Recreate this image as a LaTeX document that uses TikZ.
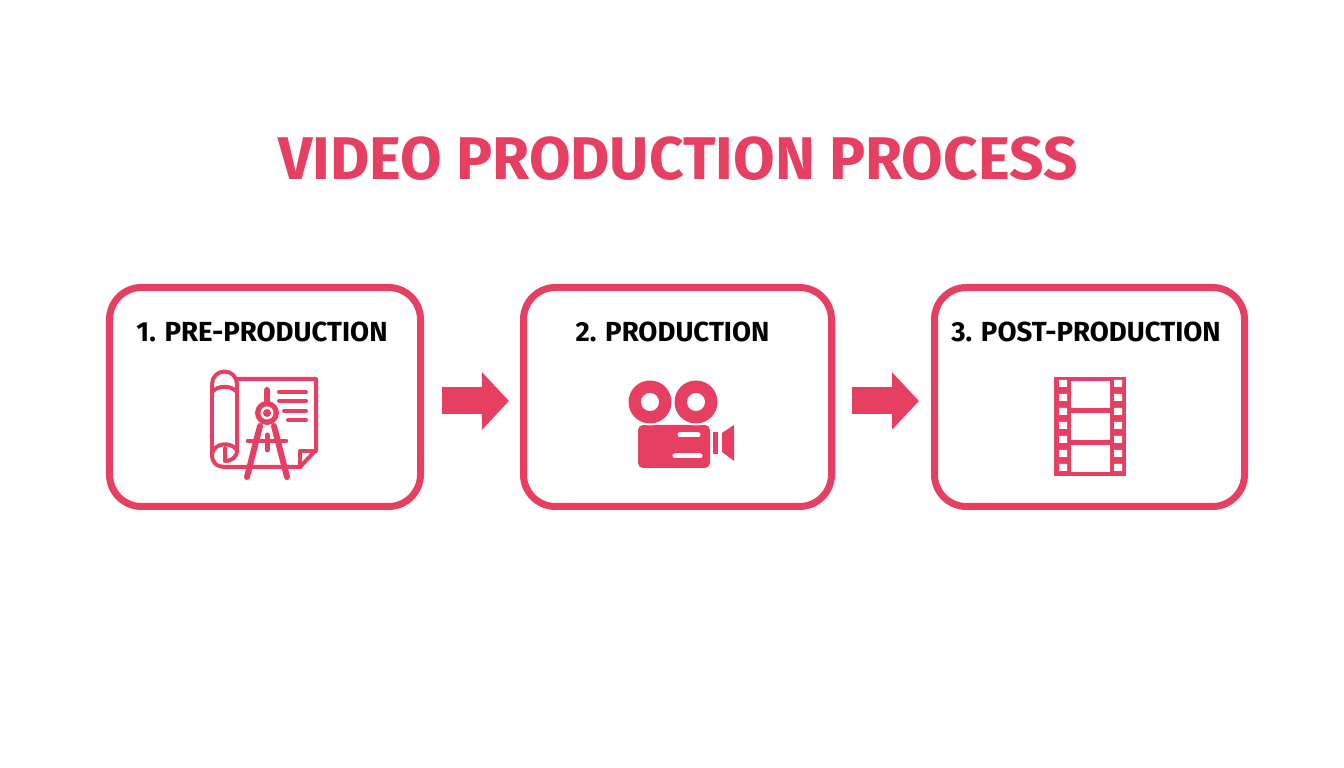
\documentclass[tikz,border=0pt]{standalone}
\usepackage{fontspec}
\setmainfont{Fira Sans}
\usepackage{xcolor}
\usetikzlibrary{arrows.meta}
\definecolor{rose}{HTML}{E63F62}
\tikzstyle{stepbox} = [rectangle, rounded corners=0.32cm, draw=rose, line width=0.07cm, minimum height=2.19cm]
\tikzstyle{steplabel} = [font=\bfseries\fontsize{7.85pt}{9pt}\selectfont, text=black]
\tikzstyle{bigarrow} = [draw=rose, line width=0.27cm, -{Triangle[length=0.27cm, width=0.56cm, fill=rose]}]
\tikzstyle{thin} = [draw=rose, line width=0.04cm, line join=round, line cap=round]
\tikzstyle{leg} = [draw=rose, line width=0.06cm, line cap=round]

\begin{document}
\begin{tikzpicture}
    \useasboundingbox (0,0) rectangle (13.44,7.68);

    \node (title) [font=\bfseries\fontsize{17.15pt}{22pt}\selectfont, text=rose] at (6.78,6.09) {VIDEO PRODUCTION PROCESS};

    \node (pre) [stepbox, minimum width=3.11cm] at (2.65,3.71) {};
    \node (prod) [stepbox, minimum width=3.08cm] at (6.775,3.71) {};
    \node (post) [stepbox, minimum width=3.10cm] at (10.895,3.71) {};

    \node (prelabel) [steplabel] at (2.62,4.36) {1. PRE-PRODUCTION};
    \node (prodlabel) [steplabel] at (6.725,4.36) {2. PRODUCTION};
    \node (postlabel) [steplabel] at (10.86,4.36) {3. POST-PRODUCTION};

    \draw [bigarrow, shorten <=0.18cm, shorten >=0.11cm] ([yshift=-0.04cm]pre.east) -- ([yshift=-0.04cm]prod.west);
    \draw [bigarrow, shorten <=0.17cm, shorten >=0.12cm] ([yshift=-0.04cm]prod.east) -- ([yshift=-0.04cm]post.west);

    % plan and compass
    \draw [thin] (2.12,3.14) -- (2.12,3.84) arc (180:0:0.125) -- (2.37,3.18);
    \draw [thin] (2.37,3.89) -- (3.16,3.89) -- (3.16,3.18) -- (3.00,3.01) -- (2.27,3.01) .. controls (2.16,3.01) and (2.12,3.05) .. (2.12,3.14);
    \draw [thin] (3.00,3.01) -- (3.00,3.17) -- (3.16,3.17);
    \draw [thin] (2.12,3.76) .. controls (2.18,3.83) and (2.31,3.83) .. (2.37,3.76);
    \draw [thin] (2.12,3.14) .. controls (2.14,3.25) and (2.30,3.27) .. (2.37,3.18);
    \draw [thin] (2.37,3.18) .. controls (2.37,3.10) and (2.31,3.07) .. (2.25,3.07) -- (2.25,3.20);
    \draw [thin] (2.79,3.76) -- (3.06,3.76);
    \draw [thin] (2.79,3.67) -- (3.06,3.67);
    \draw [thin] (2.84,3.57) -- (3.06,3.57);
    \draw [thin] (2.88,3.48) -- (3.06,3.48);
    \draw [leg] (2.67,3.78) -- (2.67,3.60);
    \draw [leg] (2.60,3.42) -- (2.47,2.91);
    \draw [leg] (2.74,3.42) -- (2.87,2.91);
    \draw [thin, line width=0.045cm] (2.48,3.27) -- (2.86,3.27);
    \draw [thin, line width=0.05cm] (2.67,3.33) -- (2.67,3.18);
    \fill [rose] (2.67,3.55) circle (0.12);
    \fill [white] (2.67,3.55) circle (0.065);
    \fill [rose] (2.67,3.55) circle (0.04);

    % camera
    \fill [rose, rounded corners=0.05cm] (6.38,3.00) rectangle (7.10,3.43);
    \fill [white] (6.50,3.66) circle (0.235);
    \fill [white] (6.96,3.66) circle (0.235);
    \fill [rose] (6.50,3.66) circle (0.215);
    \fill [rose] (6.96,3.66) circle (0.215);
    \fill [white] (6.50,3.66) circle (0.09);
    \fill [white] (6.96,3.66) circle (0.09);
    \draw [white, line width=0.05cm, line cap=round] (6.80,3.33) -- (6.98,3.33);
    \draw [white, line width=0.05cm, line cap=round] (6.75,3.12) -- (7.00,3.12);
    \fill [rose] (7.13,3.14) rectangle (7.18,3.36);
    \fill [rose] (7.22,3.35) -- (7.34,3.43) -- (7.34,3.07) -- (7.22,3.16) -- cycle;

    % film strip
    \fill [rose] (10.54,2.92) rectangle (11.26,3.91);
    \fill [white] (10.71,3.60) rectangle (11.10,3.87);
    \fill [white] (10.71,3.28) rectangle (11.10,3.55);
    \fill [white] (10.71,2.96) rectangle (11.10,3.23);
    \fill [white] (10.59,3.81) rectangle (10.67,3.88) (10.59,3.67) rectangle (10.67,3.74) (10.59,3.53) rectangle (10.67,3.60) (10.59,3.39) rectangle (10.67,3.46) (10.59,3.25) rectangle (10.67,3.32) (10.59,3.11) rectangle (10.67,3.18) (10.59,2.97) rectangle (10.67,3.04);
    \fill [white] (11.14,3.81) rectangle (11.22,3.88) (11.14,3.67) rectangle (11.22,3.74) (11.14,3.53) rectangle (11.22,3.60) (11.14,3.39) rectangle (11.22,3.46) (11.14,3.25) rectangle (11.22,3.32) (11.14,3.11) rectangle (11.22,3.18) (11.14,2.97) rectangle (11.22,3.04);
\end{tikzpicture}
\end{document}
